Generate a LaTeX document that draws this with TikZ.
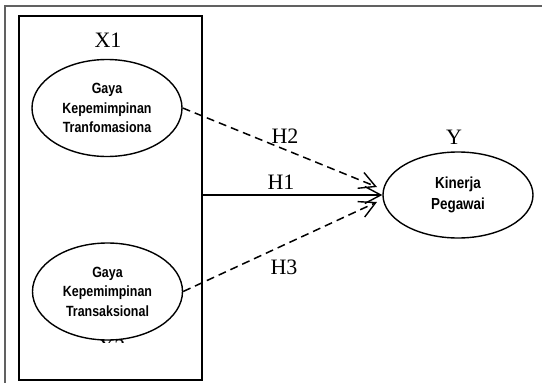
\documentclass[tikz,border=0pt]{standalone}
\usepackage{fontspec}
\setmainfont{Liberation Serif}
\newfontfamily\narrowsans[FakeStretch=0.84]{Liberation Sans}
\usetikzlibrary{arrows.meta,shapes.geometric}
\begin{document}
\begin{tikzpicture}[x=1pt,y=-1pt,
  latent/.style={ellipse,draw,line width=1.4pt,fill=white,minimum width=150pt,minimum height=97pt,inner sep=0pt,
    align=center,font=\narrowsans\bfseries\fontsize{14.8}{19.5}\selectfont},
  lbl/.style={font=\fontsize{22}{24}\selectfont,inner sep=0pt},
  barb/.style={-{Straight Barb[length=16pt,width=17pt,line width=1.4pt]}},
  hpath/.style={dashed,dash pattern=on 8pt off 5pt,line width=1.5pt,barb}]
\useasboundingbox (0,0) rectangle (542,383);
% outer frame
\draw[line width=2.4pt,color=black!62] (5,383) -- (5,6) -- (542,6);
% inner box
\node[draw,line width=2pt,minimum width=183pt,minimum height=364pt,inner sep=0pt] (box) at (110.5,198) {};
\node[lbl] (x1) at (108,40) {X1};
% hidden X2 label, mostly covered
\begin{scope}
\clip (90,339) rectangle (135,342.5);
\node[lbl] (x2) at (112,347) {X2};
\end{scope}
\node[latent] (tf) at (107,108) {Gaya\\Kepemimpinan\\Tranfomasiona};
\node[latent] (ts) at (107.5,291.5) {Gaya\\Kepemimpinan\\Transaksional};
\node[latent,minimum height=86pt,font=\narrowsans\bfseries\fontsize{16}{21}\selectfont] (kp) at (458,195) {Kinerja\\Pegawai};
\node[lbl] (y) at (454,137) {Y};
\coordinate (t2) at (377,187);
\coordinate (t3) at (377,202);
\draw[line width=2.8pt,barb] (box.east |- kp.west) -- (kp.west);
\draw[hpath] (tf.east) -- (t2);
\draw[hpath] (ts.east) -- (t3);
\node[lbl] (h1) at (281,182) {H1};
\node[lbl] (h2) at (285,136) {H2};
\node[lbl] (h3) at (284,267) {H3};
\end{tikzpicture}
\end{document}
